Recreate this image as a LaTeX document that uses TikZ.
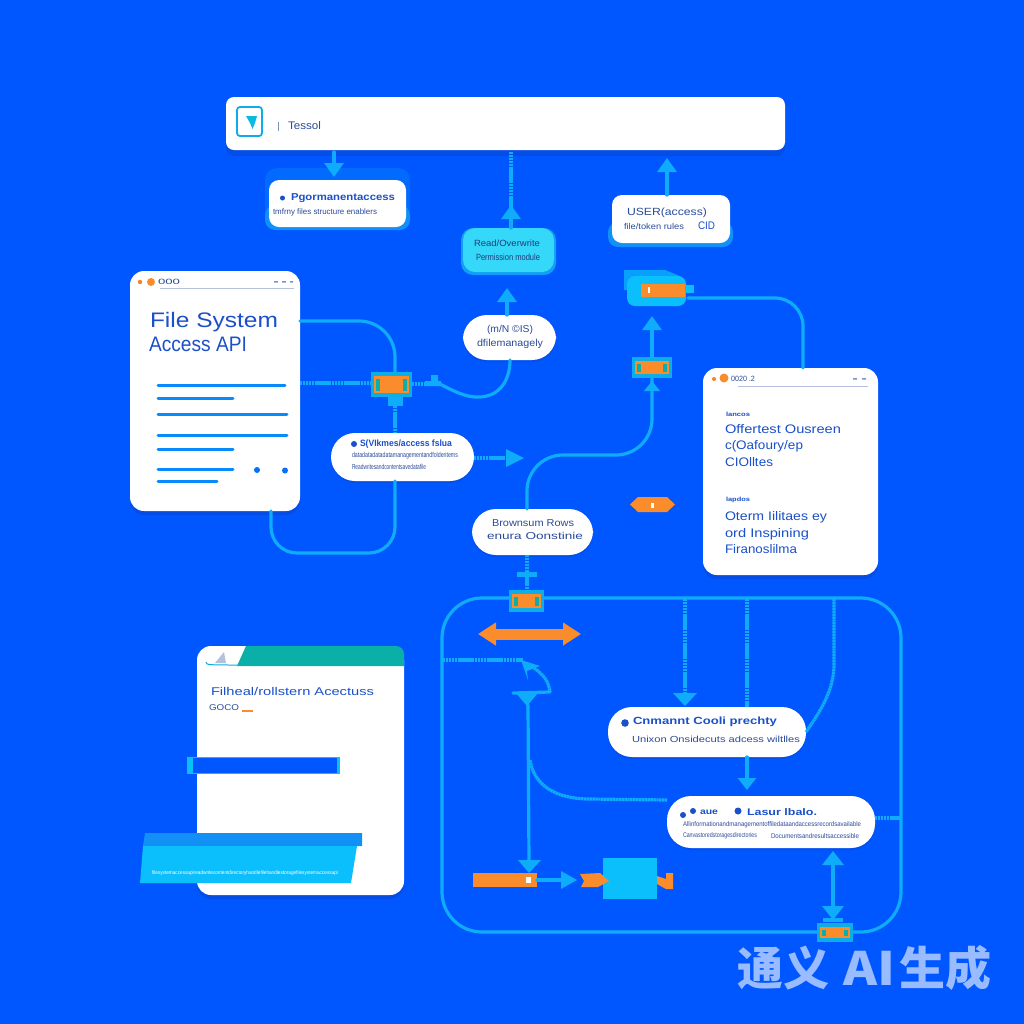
\documentclass[tikz,border=0pt]{standalone}
\usepackage{fontspec}
\usepackage{graphicx}
\setmainfont{Liberation Sans}
\newfontfamily\cjkfont{Noto Sans CJK SC}
\usetikzlibrary{arrows.meta,fit,shapes.geometric,shadows}
\definecolor{bgblue}{HTML}{0057FF}
\definecolor{wire}{HTML}{0EACFA}
\definecolor{orangeA}{HTML}{FB8C2C}
\definecolor{inkblue}{HTML}{1A50C8}
\definecolor{inkdark}{HTML}{2A4A9A}
\definecolor{tealA}{HTML}{0AAFA8}
\definecolor{cyanA}{HTML}{0BBEFC}
\definecolor{cyanB}{HTML}{35D8F8}
\definecolor{lipblue}{HTML}{1290F6}
\definecolor{shadeblue}{HTML}{0A45D0}
\newcommand{\fw}[2]{\resizebox{#1pt}{\height}{#2}}
\newcommand{\fs}[1]{\fontsize{#1}{#1}\selectfont}
\tikzset{
  x=0.5pt,y=-0.5pt,
  boxfit/.style={inner sep=0pt,outer sep=0pt,rounded corners=#1},
  card/.style={boxfit=7pt,fill=white,drop shadow={shadow xshift=0pt,shadow yshift=-2pt,fill=shadeblue,opacity=.55}},
  softcard/.style={boxfit=5pt,fill=white},
  pill/.style={boxfit=12pt,fill=white,drop shadow={shadow xshift=0pt,shadow yshift=-1pt,fill=shadeblue,opacity=.4}},
  lip/.style={boxfit=5pt,fill=lipblue},
  wireline/.style={draw=wire,line width=1.6pt,line cap=round},
  dotline/.style={draw=wire,line width=1.6pt,dash pattern=on 1.2pt off .25pt},
  head/.style={-{Triangle[length=7pt,width=9.5pt,fill=wire,color=wire]}},
  smallhead/.style={-{Triangle[length=6pt,width=9pt,fill=wire,color=wire]}},
  bihead/.style={{Triangle[length=7pt,width=10.5pt,fill=wire,color=wire]}-{Triangle[length=7pt,width=10.5pt,fill=wire,color=wire]}},
  txt/.style={inner sep=0pt,outer sep=0pt,anchor=west,text=inkblue},
  txtd/.style={txt,text=inkdark},
  chipframe/.style={inner sep=0pt,outer sep=0pt,fill=wire!75!tealA},
  chipcore/.style={inner sep=0pt,outer sep=0pt,fill=orangeA},
  rule/.style={draw=#1,line width=1.5pt,line cap=round},
}
\newcommand{\chip}[5]{% name, x0,y0,x1,y1
  \node[chipframe,fit={(#2,#3)(#4,#5)}] (#1) {};
  \node[chipcore,fit={(#2+3,#3+4)(#4-3,#5-4)}] (#1core) {};
  \fill[tealA] (#2+5,#3+7) rectangle (#2+9,#5-6);
  \fill[tealA] (#4-9,#3+7) rectangle (#4-5,#5-6);
}
\begin{document}
\begin{tikzpicture}
\useasboundingbox (0,0) rectangle (1024,1024);
\fill[bgblue] (0,0) rectangle (1024,1024);

% ---- connectors underneath
\coordinate (j1) at (334,152);
\coordinate (j1e) at (334,177);
\coordinate (j2) at (511,152);
\coordinate (j2h) at (511,205);
\coordinate (j3) at (667,158);

% ---- top bar
\node[boxfit=4pt,fill=white,drop shadow={shadow xshift=0pt,shadow yshift=-3pt,fill=shadeblue,opacity=.5},fit={(226,97)(785,150)}] (bar) {};
\node[draw=wire!80!tealA,line width=.9pt,fill=white,rounded corners=1.5pt,inner sep=0pt,fit={(237,107)(262,136)}] (logo) {};
\fill[cyanA!70!tealA] (246,116) -- (257,116) -- (255,123) -- (252.500,129) -- (250,123) -- cycle;
\draw[inkdark!60,line width=.4pt] (278,122) -- (278,131);
\node[txtd,font=\fs{5.5}] (t0) at (288,125.500) {\fw{16.5}{Tessol}};

% ---- box 1
\node[boxfit=6pt,fill=wire!22!bgblue,fit={(265,168)(410,226)}] (box1back) {};
\node[lip,fit={(265,205)(410,230)}] (box1lip) {};
\node[softcard,fit={(269,180)(406,227)}] (box1) {};
\fill[inkblue] (282.500,198) circle (2.5);
\node[txt,font=\bfseries\fs{5}] (t1a) at (291,198) {\fw{52}{Pgormanentaccess}};
\node[txtd,font=\fs{4}] (t1b) at (273,212) {\fw{52}{tmfrny files structure enablers}};

% ---- cyan box
\node[boxfit=6pt,fill=lipblue!70!cyanA,fit={(461,228)(556,275)}] (cyanlip) {};
\node[boxfit=6pt,fill=cyanB,fit={(463,228)(554,272)}] (cyanbox) {};
\node[txtd,font=\fs{4.5},text=inkdark!80!black] (t2a) at (474,243) {\fw{33}{Read/Overwrite}};
\node[txtd,font=\fs{4.5},text=inkdark!80!black] (t2b) at (476,257) {\fw{32}{Permission module}};

% ---- box right top
\node[lip,fit={(608,222)(733,247)}] (box2lip) {};
\node[softcard,fit={(612,195)(730,243)}] (box2) {};
\node[txtd,font=\fs{5.2}] (t3a) at (627,212.500) {\fw{40}{USER(access)}};
\node[txtd,font=\fs{4.2}] (t3b) at (624,226) {\fw{30}{file/token rules}};
\node[txt,font=\fs{5.5}] (t3c) at (698,226) {\fw{8.5}{CID}};

% ---- device icon
\fill[cyanA!70!bgblue] (624,270) -- (665,270) -- (680,276) -- (680,290) -- (624,290) -- cycle;
\node[boxfit=4pt,fill=cyanA,fit={(627,276)(686,306)}] (device) {};
\node[chipcore,fit={(641,284)(685,297)}] (devcore) {};
\fill[white] (648,287) rectangle (650,293);
\fill[cyanA] (685,285) rectangle (694,293);
\coordinate (d1) at (688,298);

% ---- pill 2 (top centre)
\node[pill,fit={(463,315)(556,360)}] (pillb) {};
\node[txtd,font=\fs{5}] (t4a) at (487,330) {\fw{23}{(m/N ©IS)}};
\node[txtd,font=\fs{5}] (t4b) at (477,344) {\fw{33}{dfilemanagely}};

% ---- card 1
\node[card,fit={(130,271)(300,511)}] (card1) {};
\fill[orangeA!90!red] (140,282) circle (2.2);
\fill[orangeA] (151,282) circle (4);
\node[txtd,font=\fs{3.8}] (c1a) at (158,282) {\fw{11}{000}};
\fill[inkdark!60] (274,281) rectangle (278,282.5) (282,281) rectangle (286,282.5) (290,281) rectangle (293,282.5);
\draw[inkdark!35,line width=.5pt] (160,288) -- (294,288);
\node[txt,font=\fs{10.5}] (c1t1) at (150,322) {\fw{64}{File System}};
\node[txt,font=\fs{10.5}] (c1t2) at (149,344) {\fw{49}{Access API}};
\foreach \a/\b/\c in {158/285/385,158/233/398,158/287/414,158/287/435,158/233/449,158/233/469,158/217/481}
  \draw[rule=wire!60!bgblue] (\a,\c) -- (\b,\c);
\fill[wire!30!bgblue] (257,470) circle (3) (285,470.500) circle (3);

% ---- card 2
\node[card,fit={(703,368)(878,575)}] (card2) {};
\fill[orangeA!90!red] (714,379) circle (2);
\fill[orangeA] (724,378) circle (4.5);
\node[txtd,font=\fs{3.8}] (c2a) at (731,379) {\fw{12}{0020 .2}};
\fill[inkdark!60] (853,378) rectangle (857,379.5) (862,378) rectangle (866,379.5);
\draw[inkdark!35,line width=.5pt] (738,386) -- (868,386);
\node[txt,font=\bfseries\fs{3}] (c2b) at (726,414.500) {\fw{12}{lancos}};
\node[txt,font=\fs{6.2}] (c2c) at (725,429) {\fw{58}{Offertest Ousreen}};
\node[txt,font=\fs{6.2}] (c2d) at (725,446) {\fw{39}{c(Oafoury/ep}};
\node[txt,font=\fs{6.2}] (c2e) at (725,462.500) {\fw{24}{CIOlltes}};
\node[txt,font=\bfseries\fs{3}] (c2f) at (726,500) {\fw{12}{lapdos}};
\node[txt,font=\fs{6.2}] (c2g) at (725,517) {\fw{51}{Oterm Iilitaes ey}};
\node[txt,font=\fs{6.2}] (c2h) at (725,534) {\fw{42}{ord Inspining}};
\node[txt,font=\fs{6.2}] (c2i) at (725,549.500) {\fw{36}{Firanoslilma}};

% ---- chips
\chip{chipa}{371}{372}{412}{397}
\chip{chipb}{632}{357}{672}{378}

% ---- pill 3
\node[pill,fit={(331,433)(474,481)}] (pillc) {};
\fill[inkblue] (354,444) circle (3);
\node[txt,font=\bfseries\fs{4.6}] (t5a) at (360,444) {\fw{46}{S(VIkmes/access fslua}};
\node[txtd,font=\fs{3.6}] (t5b) at (352,456) {\fw{53}{datadatadatadatamanagementandfolderitems}};
\node[txtd,font=\fs{3.6}] (t5c) at (352,467) {\fw{37}{Readwritesandcontentsavedatafile}};

% ---- pill 4
\node[pill,fit={(472,509)(593,555)}] (pilld) {};
\node[txtd,font=\fs{5}] (t6a) at (492,523.500) {\fw{41}{Brownsum Rows}};
\node[txtd,font=\fs{5}] (t6b) at (487,536) {\fw{48}{enura Oonstinie}};

% ---- orange hexagon
\fill[orangeA] (630,504.500) -- (638,497) -- (667,497) -- (675,504.500) -- (667,512) -- (638,512) -- cycle;
\fill[white] (651,503) rectangle (654,508);

% ---- frame
\node[draw=wire,line width=1.6pt,rounded corners=20pt,inner sep=0pt,fit={(442,598)(901,932)}] (frame) {};
\chip{chipc}{509}{590}{544}{612}
\chip{chipd}{817}{923}{853}{942}

% ---- orange double arrow
\coordinate (o1) at (478,634);
\coordinate (o2) at (581,634);
\draw[orangeA,line width=5.5pt,{Triangle[length=9pt,width=11pt,fill=orangeA,color=orangeA]}-{Triangle[length=9pt,width=11pt,fill=orangeA,color=orangeA]}] (o1) -- (o2);

% ---- pill 5, pill 6
\node[pill,fit={(608,707)(806,757)}] (pille) {};
\fill[inkblue] (625,723) circle (3.8);
\node[txt,font=\bfseries\fs{5.2}] (t7a) at (633,722) {\fw{72}{Cnmannt  Cooli prechty}};
\node[txtd,font=\fs{4.4}] (t7b) at (632,739) {\fw{84}{Unixon   Onsidecuts adcess wiltlles}};

\node[pill,fit={(667,796)(875,848)}] (pillf) {};
\fill[inkblue] (683,815) circle (3) (738,811) circle (3.5);
\fill[inkblue] (693,811) circle (3);
\node[txt,font=\bfseries\fs{4.2}] (t8a) at (700,812) {\fw{9}{aue}};
\node[txt,font=\bfseries\fs{4.8}] (t8b) at (747,812) {\fw{35}{Lasur lbalo.}};
\node[txtd,font=\fs{3.4}] (t8c) at (683,825) {\fw{89}{Allinformationandmanagementoffiledataandaccessrecordsavailable}};
\node[txtd,font=\fs{3.4}] (t8d) at (683,836) {\fw{37}{Canvastoredstoragesdirectories}};
\node[txtd,font=\fs{3.4}] (t8e) at (771,836) {\fw{44}{Documentsandresultsaccessible}};

% ---- bottom left machine
\node[inner sep=0pt,outer sep=0pt,fill=orangeA,fit={(473,873)(537,887)}] (bar2) {};
\fill[white] (526,877) rectangle (531,883);
\node[inner sep=0pt,outer sep=0pt,fill=cyanA,fit={(603,858)(657,899)}] (sq) {};
\fill[orangeA] (580,874) -- (600,873) -- (609,881) -- (598,887) -- (581,887) -- (584,881) -- cycle;
\fill[orangeA] (657,876) -- (666,879) -- (666,873) -- (673,873) -- (673,889) -- (666,889) -- (657,884) -- cycle;
\coordinate (s1) at (562,880);

% ---- card 3
\node[card,fit={(197,646)(404,895)}] (card3) {};
\fill[tealA] (246,646) -- (396,646) to[out=0,in=90] (404,654) -- (404,666) -- (237,666) -- cycle;
\fill[inkdark!35] (215,663) -- (226,663) -- (224,652) -- cycle;
\draw[wire!60!tealA,line width=.5pt] (206,662) .. controls (206,665) and (208,665) .. (240,665);
\node[txt,font=\fs{5.6}] (c3a) at (211,691) {\fw{81.5}{Filheal/rollstern Acectuss}};
\node[txtd,font=\fs{4.2}] (c3b) at (209,708) {\fw{15}{GOCO}};
\draw[orangeA,line width=.6pt] (242,711) -- (253,711);
\node[inner sep=0pt,outer sep=0pt,fill=cyanA,fit={(187,757)(340,774)}] (bar3) {};
\node[inner sep=0pt,outer sep=0pt,fill=bgblue,fit={(193,758)(337,773)}] (bar3i) {};
\fill[lipblue] (145,833) -- (362,833) -- (362,846) -- (143,846) -- cycle;
\fill[cyanA] (143,846) -- (357,846) -- (351,883) -- (140,883) -- cycle;
\node[inner sep=0pt,outer sep=0pt,text=white,font=\fs{2.6},anchor=west] (c3c) at (152,873.500) {\fw{93}{filesystemaccessapireadwritecontentdirectoryhandlefilehandlestoragefilesystemaccessapi}};

% ---- connectors
\draw[wireline,head] (j1) -- (j1e);
\draw[dotline] (j2) -- (cyanbox.north -| j2);
\draw[wireline,head] (cyanbox.north -| j2) -- (j2h);
\coordinate (pb1) at (507,315);
\coordinate (pb2) at (507,288);
\draw[wireline,head] (pb1) -- (pb2);
\coordinate (b2a) at (667,195);
\draw[wireline,head] (b2a) -- (j3);
\draw[wireline,head] (chipb.north) -- (652,316);
\coordinate (cr2) at (803,368);
\draw[wireline,rounded corners=14pt] (d1) -- (803,298) -- (cr2);

\coordinate (c1o) at (300,321);
\coordinate (ca1) at (395,372);
\draw[wireline,rounded corners=18pt] (c1o) -- (395,321) -- (ca1);
\coordinate (c1p) at (300,383);
\draw[dotline] (c1p) -- (chipa.west |- c1p);
\coordinate (ca2) at (412,384);
\coordinate (ca3) at (440,384);
\coordinate (pb3) at (510,360);
\draw[dotline] (ca2) -- (ca3);
\fill[wire] (425,381) rectangle (441,386) (431,375) rectangle (438,386);
\draw[wireline] (ca3) .. controls (455,392) and (468,398) .. (480,397) .. controls (500,396) and (510,380) .. (pb3);
\coordinate (ca4) at (395,397);
\coordinate (pc1) at (395,433);
\draw[dotline] (ca4) -- (pc1);
\fill[wire] (388,397) rectangle (403,406);
\coordinate (pc2) at (395,481);
\coordinate (c1b) at (271,511);
\draw[wireline,rounded corners=13pt] (pc2) -- (395,553) -- (271,553) -- (c1b);
\coordinate (pc3) at (474,458);
\draw[dotline] (pc3) -- (508,458);
\fill[wire] (506,449) -- (524,458) -- (506,467) -- cycle;

\coordinate (pd1) at (527,509);
\coordinate (cb1) at (652,378);
\draw[wireline,rounded corners=18pt] (pd1) -- (527,455) -- (652,455) -- (cb1);
\fill[wire] (644,391) -- (652,381) -- (660,391) -- cycle;
\coordinate (pd2) at (527,555);
\draw[dotline] (pd2) -- (chipc.north -| pd2);
\fill[wire] (517,572) rectangle (537,577);

% inside frame
\coordinate (f1) at (685,599);
\coordinate (f2) at (747,599);
\coordinate (f3) at (834,599);
\draw[dotline] (f1) -- (685,695);
\fill[wire] (673,693) -- (697,693) -- (685,706) -- cycle;
\draw[dotline] (f2) -- (pille.north -| f2);
\draw[dotline] (f3) -- (834,665) .. controls (834,690) and (820,712) .. (pille.east);
\coordinate (pe1) at (747,757);
\coordinate (pe2) at (747,790);
\draw[wireline,smallhead] (pe1) -- (pe2);
\coordinate (pf1) at (875,818);
\coordinate (fr1) at (901,818);
\draw[dotline] (pf1) -- (fr1);
\coordinate (pf2) at (833,851);
\coordinate (cd1) at (833,920);
\draw[wireline,bihead] (cd1) -- (pf2);
\fill[wire] (823,918) rectangle (843,922);

\coordinate (l0) at (443,660);
\coordinate (l1) at (523,660);
\draw[dotline] (l0) -- (l1);
\fill[wire] (521,660) -- (540,666) -- (527,671) -- (528,680) -- cycle;
\draw[dotline] (534,668) .. controls (544,675) and (549,682) .. (550,692);
\coordinate (l2) at (513,693);
\coordinate (l3) at (550,692);
\draw[wireline] (l2) -- (l3);
\fill[wire] (516,693) -- (538,693) -- (527,706) -- cycle;
\coordinate (l4) at (528,705);
\coordinate (l5) at (529,862);
\draw[wireline] (l4) -- (l5);
\fill[wire] (518,860) -- (541,860) -- (529,873) -- cycle;
\coordinate (l6) at (530,760);
\coordinate (pf3) at (667,800);
\draw[dotline] (l6) .. controls (534,785) and (555,799) .. (590,799) -- (pf3);
\draw[wireline] (bar2.east) -- (s1);
\fill[wire] (561,871) -- (577,880) -- (561,889) -- cycle;

% ---- watermark
\node[inner sep=0pt,anchor=west,text=white,opacity=.6,font=\bfseries\fontsize{23}{23}\selectfont] (wm) at (737,968) {\cjkfont 通义\hspace{7pt}\fw{26}{AI}\hspace{2pt}生成};
\end{tikzpicture}
\end{document}
